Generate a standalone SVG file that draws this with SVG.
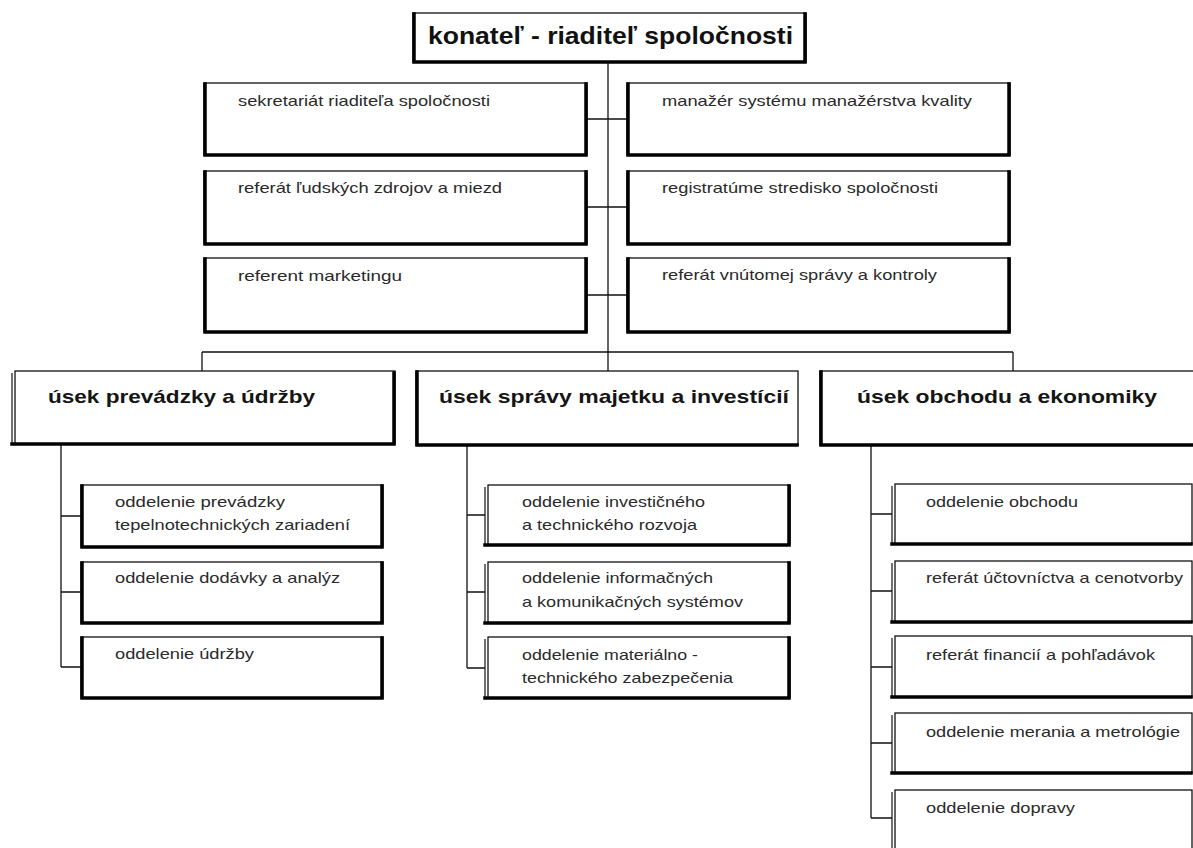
<svg xmlns="http://www.w3.org/2000/svg" width="1193" height="848" viewBox="0 0 1193 848">
<style>
.bx{fill:#fff;stroke:#111;stroke-width:1.3}
.sh{fill:none;stroke:#000;stroke-width:3.5;stroke-linecap:square}
.dl{fill:none;stroke:#111;stroke-width:1.2}
.cn{fill:none;stroke:#111;stroke-width:1.3}
.t{font-family:"Liberation Sans",Arial,sans-serif;font-size:14.5px;fill:#2a2a2a}
.tb{font-family:"Liberation Sans",Arial,sans-serif;font-size:19px;font-weight:bold;fill:#151515}
.tt{font-family:"Liberation Sans",Arial,sans-serif;font-size:24px;font-weight:bold;fill:#111}
</style>
<rect width="1193" height="848" fill="#fff"/>
<g id="connectors">
<path class="cn" d="M608,62 V371"/>
<path class="cn" d="M587,119 H627 M587,207 H627 M587,295 H627"/>
<path class="cn" d="M202,352 H1013 M202,352 V371 M1013,352 V371"/>
<path class="cn" d="M61,444 V667 M61,516 H81 M61,592 H81 M61,667 H81"/>
<path class="cn" d="M467,445 V668 M467,515 H485 M467,592 H485 M467,668 H485"/>
<path class="cn" d="M871,445 V818 M871,514 H892 M871,591 H892 M871,667 H892 M871,743 H892 M871,818 H892"/>
</g>
<g id="n-top">
<rect class="bx" x="413" y="13" width="393" height="49"/>
<path class="sh" d="M414,14 V62 H805 V14"/>
<text class="tt" x="428" y="44" textLength="365" lengthAdjust="spacingAndGlyphs">konateľ - riaditeľ spoločnosti</text>
</g>
<g id="n-sekretariat">
<rect class="bx" x="204" y="83" width="383" height="72"/>
<path class="sh" d="M205,84 V155 H586 V84"/>
<text class="t" x="238" y="106" textLength="252" lengthAdjust="spacingAndGlyphs">sekretariát riaditeľa spoločnosti</text>
</g>
<g id="n-ludske">
<rect class="bx" x="204" y="171" width="383" height="73"/>
<path class="sh" d="M205,172 V244 H586 V172"/>
<text class="t" x="238" y="193" textLength="264" lengthAdjust="spacingAndGlyphs">referát ľudských zdrojov a miezd</text>
</g>
<g id="n-marketing">
<rect class="bx" x="204" y="258" width="383" height="74"/>
<path class="sh" d="M205,259 V332 H586 V259"/>
<text class="t" x="238" y="281" textLength="164" lengthAdjust="spacingAndGlyphs">referent  marketingu</text>
</g>
<g id="n-kvalita">
<rect class="bx" x="627" y="83" width="383" height="72"/>
<path class="sh" d="M628,84 V155 H1009 V84"/>
<text class="t" x="662" y="106" textLength="310" lengthAdjust="spacingAndGlyphs">manažér systému manažérstva kvality</text>
</g>
<g id="n-registratura">
<rect class="bx" x="627" y="171" width="383" height="73"/>
<path class="sh" d="M628,172 V244 H1009 V172"/>
<text class="t" x="662" y="193" textLength="276" lengthAdjust="spacingAndGlyphs">registratúme stredisko spoločnosti</text>
</g>
<g id="n-kontrola">
<rect class="bx" x="627" y="258" width="383" height="74"/>
<path class="sh" d="M628,259 V332 H1009 V259"/>
<text class="t" x="662" y="280" textLength="275" lengthAdjust="spacingAndGlyphs">referát vnútomej správy a kontroly</text>
</g>
<g id="n-usek-prevadzky">
<rect class="bx" x="15" y="371" width="380" height="73"/>
<path class="dl" d="M12,373 V444"/>
<path class="sh" d="M12,444 H394 V373"/>
<text class="tb" x="48" y="403" textLength="267" lengthAdjust="spacingAndGlyphs">úsek prevádzky  a údržby</text>
</g>
<g id="n-usek-spravy">
<rect class="bx" x="416" y="371" width="382" height="74"/>
<path class="sh" d="M417,372 V445 H797"/>
<text class="tb" x="439" y="403" textLength="350" lengthAdjust="spacingAndGlyphs">úsek správy majetku a investícií</text>
</g>
<g id="n-usek-obchodu">
<rect class="bx" x="820" y="371" width="380" height="74"/>
<path class="sh" d="M821,372 V445 H1200"/>
<text class="tb" x="857" y="403" textLength="300" lengthAdjust="spacingAndGlyphs">úsek obchodu a ekonomiky</text>
</g>
<g id="n-opr-tepel">
<rect class="bx" x="81" y="485" width="302" height="62"/>
<path class="sh" d="M82,486 V547 H382 V486"/>
<text class="t" x="115" y="507" textLength="170" lengthAdjust="spacingAndGlyphs">oddelenie prevádzky</text>
<text class="t" x="115" y="530" textLength="235" lengthAdjust="spacingAndGlyphs">tepelnotechnických zariadení</text>
</g>
<g id="n-dodavky">
<rect class="bx" x="81" y="562" width="302" height="61"/>
<path class="sh" d="M82,563 V623 H382 V563"/>
<text class="t" x="115" y="583" textLength="225" lengthAdjust="spacingAndGlyphs">oddelenie dodávky a analýz</text>
</g>
<g id="n-udrzby">
<rect class="bx" x="81" y="637" width="302" height="61"/>
<path class="sh" d="M82,638 V698 H382 V638"/>
<text class="t" x="115" y="659" textLength="139" lengthAdjust="spacingAndGlyphs">oddelenie údržby</text>
</g>
<g id="n-investicneho">
<rect class="bx" x="488" y="485" width="302" height="60"/>
<path class="dl" d="M485,487 V545"/>
<path class="sh" d="M485,545 H789 V486"/>
<text class="t" x="522" y="507" textLength="183" lengthAdjust="spacingAndGlyphs">oddelenie investičného</text>
<text class="t" x="522" y="530" textLength="175" lengthAdjust="spacingAndGlyphs">a technického rozvoja</text>
</g>
<g id="n-informacnych">
<rect class="bx" x="488" y="562" width="302" height="61"/>
<path class="dl" d="M485,564 V623"/>
<path class="sh" d="M485,623 H789 V563"/>
<text class="t" x="522" y="583" textLength="191" lengthAdjust="spacingAndGlyphs">oddelenie informačných</text>
<text class="t" x="522" y="607" textLength="221" lengthAdjust="spacingAndGlyphs">a komunikačných systémov</text>
</g>
<g id="n-materialno">
<rect class="bx" x="488" y="637" width="302" height="61"/>
<path class="dl" d="M485,639 V698"/>
<path class="sh" d="M485,698 H789 V638"/>
<text class="t" x="522" y="660" textLength="176" lengthAdjust="spacingAndGlyphs">oddelenie materiálno -</text>
<text class="t" x="522" y="683" textLength="211" lengthAdjust="spacingAndGlyphs">technického zabezpečenia</text>
</g>
<g id="n-obchodu">
<rect class="bx" x="895" y="484" width="297" height="60"/>
<path class="dl" d="M892,486 V544"/>
<path class="sh" d="M892,544 H1191"/>
<text class="t" x="926" y="507" textLength="152" lengthAdjust="spacingAndGlyphs">oddelenie obchodu</text>
</g>
<g id="n-uctovnictva">
<rect class="bx" x="895" y="561" width="297" height="61"/>
<path class="dl" d="M892,563 V622"/>
<path class="sh" d="M892,622 H1191"/>
<text class="t" x="926" y="583" textLength="257" lengthAdjust="spacingAndGlyphs">referát účtovníctva a cenotvorby</text>
</g>
<g id="n-financii">
<rect class="bx" x="895" y="636" width="297" height="61"/>
<path class="dl" d="M892,638 V697"/>
<path class="sh" d="M892,697 H1191"/>
<text class="t" x="926" y="660" textLength="229" lengthAdjust="spacingAndGlyphs">referát financií a pohľadávok</text>
</g>
<g id="n-merania">
<rect class="bx" x="895" y="713" width="297" height="60"/>
<path class="dl" d="M892,715 V773"/>
<path class="sh" d="M892,773 H1191"/>
<text class="t" x="926" y="737" textLength="254" lengthAdjust="spacingAndGlyphs">oddelenie merania a metrológie</text>
</g>
<g id="n-dopravy">
<rect class="bx" x="895" y="790" width="297" height="70"/>
<path class="dl" d="M892,792 V860"/>
<text class="t" x="926" y="813" textLength="149" lengthAdjust="spacingAndGlyphs">oddelenie dopravy</text>
</g>
</svg>
